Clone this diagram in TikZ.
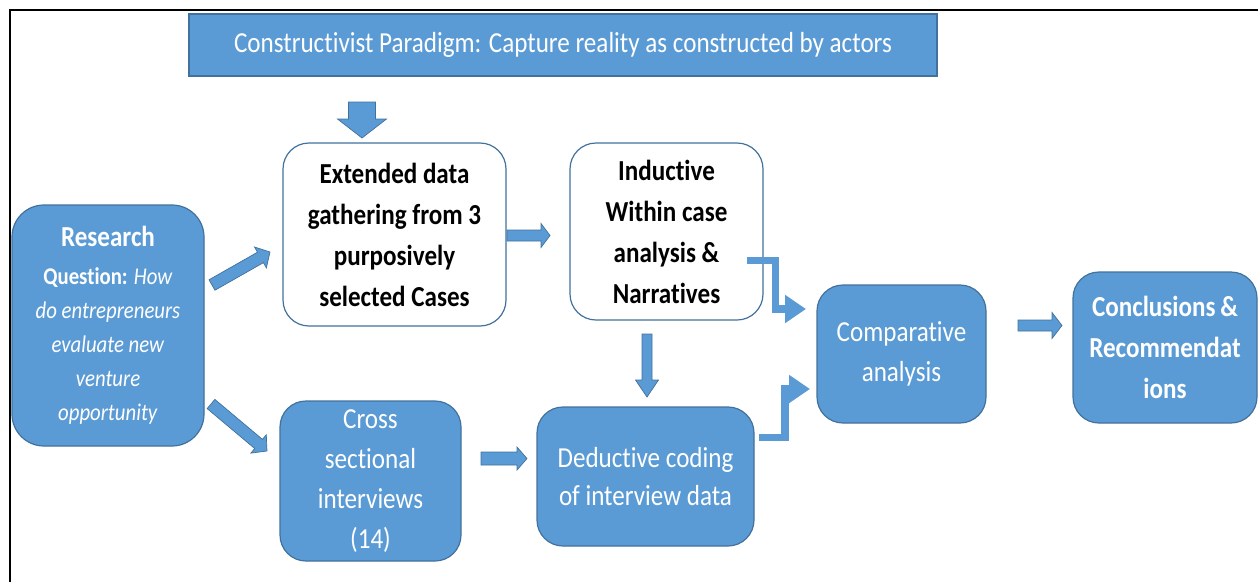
\documentclass[tikz,border=0pt]{standalone}
\usepackage{fontspec}
\setmainfont{Carlito}[FakeStretch=0.865, Ligatures={NoCommon}]
\usetikzlibrary{calc,arrows.meta}
\definecolor{boxfill}{HTML}{5B9BD5}
\definecolor{boxedge}{HTML}{41719C}

\newcommand\bigtxt{\fontsize{29}{41}\selectfont}
\newcommand\midtxt{\fontsize{29}{38}\selectfont}
\newcommand\qtxt{\fontsize{24}{34}\selectfont}

% block arrow: from, to, half shaft width, half head width, head length
\newcommand\barrow[5]{%
  \coordinate (hb) at ($(#2)!#5!(#1)$);
  \path[blockarrow] ($(#1)!#3!90:(#2)$) -- ($(hb)!#3!90:(#2)$) -- ($(hb)!#4!90:(#2)$)
    -- (#2) -- ($(hb)!#4!-90:(#2)$) -- ($(hb)!#3!-90:(#2)$) -- ($(#1)!#3!-90:(#2)$) -- cycle;
}

\tikzset{
  frame/.style={line width=2pt, black},
  bluebox/.style={draw=boxedge, fill=boxfill, line width=1.2pt, rounded corners=26pt,
    text=white, align=center, inner sep=0pt},
  whitebox/.style={draw=boxedge, fill=white, line width=1.2pt, rounded corners=26pt,
    text=black, align=center, inner sep=0pt, font=\bfseries\bigtxt},
  blockarrow/.style={draw=boxedge, fill=boxfill, line width=0.7pt, line join=miter},
  elbow/.style={draw=boxfill, line width=7.5pt, line join=miter,
    -{Triangle[length=21pt,width=27pt]}}
}

\begin{document}
\begin{tikzpicture}[x=1pt,y=-1pt]
\useasboundingbox (0,0) rectangle (1258,582);
\draw[frame] (10,582) -- (10,10) -- (1258,10);

% boxes
\node[bluebox, rounded corners=0pt, minimum width=748pt, minimum height=62pt, font=\bigtxt]
  (para) at (563,45) {Constructivist Paradigm: Capture reality as constructed by actors};
\node[whitebox, minimum width=223pt, minimum height=183pt] (ext) at (394.5,234.5)
  {Extended data\\gathering from 3\\purposively\\selected Cases};
\node[whitebox, minimum width=193pt, minimum height=177pt] (ind) at (666.5,231.5)
  {Inductive\\Within case\\analysis \&\\Narratives};
\node[bluebox, rounded corners=32pt, minimum width=192pt, minimum height=241pt, font=\qtxt]
  (res) at (108,325.5)
  {{\bfseries\bigtxt Research}\\[4pt]
   \textbf{Question:} \textit{How}\\\textit{do entrepreneurs}\\\textit{evaluate new}\\
   \textit{venture}\\\textit{opportunity}};
\node[bluebox, minimum width=181pt, minimum height=160pt, font=\fontsize{29}{40}\selectfont]
  (cross) at (370.5,481) {Cross\\sectional\\interviews\\(14)};
\node[bluebox, minimum width=217pt, minimum height=139pt, font=\midtxt] (ded) at (645.5,476.5)
  {Deductive coding\\of interview data};
\node[bluebox, minimum width=169pt, minimum height=138pt, font=\fontsize{29}{40}\selectfont]
  (comp) at (901.5,354) {Comparative\\analysis};
\node[bluebox, minimum width=184pt, minimum height=151pt, font=\bfseries\bigtxt] (concl) at (1165,347.5)
  {Conclusions\,\&\\Recommendat\\ions};

% arrow end points
\coordinate (p1) at (362,102);   \coordinate (p2) at (362,138);
\coordinate (q1) at (507,235.5); \coordinate (q2) at (550,235.5);
\coordinate (r1) at (212,285);   \coordinate (r2) at (270,252);
\coordinate (s1) at (211,404);   \coordinate (s2) at (267,451);
\coordinate (u1) at (647,334);   \coordinate (u2) at (647,397);
\coordinate (v1) at (481,458.5); \coordinate (v2) at (527,458.5);
\coordinate (w1) at (1018,325.5);\coordinate (w2) at (1062,325.5);
\coordinate (e1) at (747,260.5); \coordinate (e2) at (806,309);
\coordinate (f1) at (759,437.5); \coordinate (f2) at (810,389);

\barrow{p1}{p2}{13.5pt}{24.5pt}{19pt}
\barrow{q1}{q2}{5.5pt}{12pt}{9pt}
\barrow{r1}{r2}{6pt}{12pt}{11pt}
\barrow{s1}{s2}{6pt}{12pt}{11pt}
\barrow{u1}{u2}{5pt}{11.5pt}{17pt}
\barrow{v1}{v2}{6.5pt}{11.5pt}{10pt}
\barrow{w1}{w2}{5.5pt}{13pt}{10pt}

% bent arrows into the comparative analysis
\draw[elbow] (e1) -| (775.5,309) -- (e2);
\draw[elbow] (f1) -| (785,389) -- (f2);
\end{tikzpicture}
\end{document}
